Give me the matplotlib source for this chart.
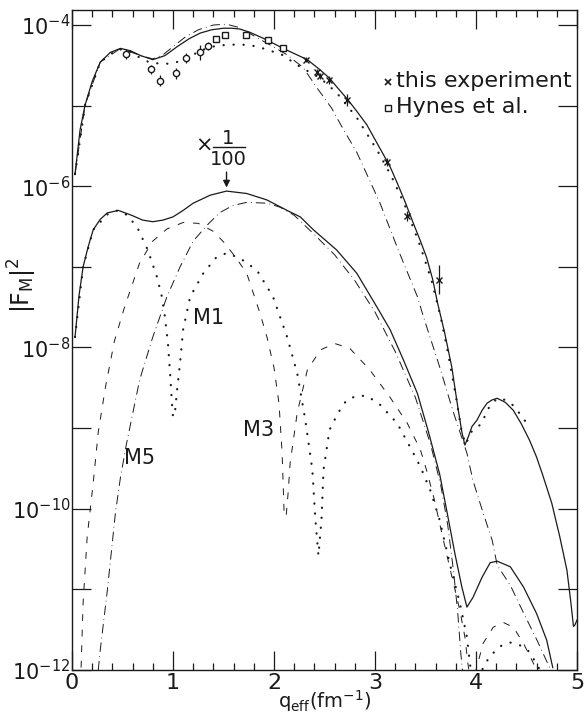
import numpy as np
import matplotlib
matplotlib.use("Agg")
import matplotlib.pyplot as plt
from matplotlib.ticker import FixedLocator, FuncFormatter, MultipleLocator

# ---- data (log10 values) ----
# full scale group
top_solid_x = [0.03, 0.08, 0.13, 0.2, 0.28, 0.38, 0.48, 0.58, 0.68, 0.8, 0.92, 1.04, 1.16, 1.27, 1.38,
               1.5, 1.58, 1.66, 1.76, 1.92, 2.09, 2.21, 2.33, 2.45, 2.55, 2.63, 2.72, 2.82, 2.92, 3.0,
               3.08, 3.15, 3.22, 3.3, 3.38, 3.45, 3.51, 3.57, 3.62, 3.69, 3.76, 3.82, 3.86, 3.89, 3.92,
               3.96, 4.01, 4.06, 4.11, 4.16, 4.21, 4.29, 4.37, 4.45, 4.53, 4.6, 4.66, 4.75, 4.83, 4.9,
               4.94, 4.965, 4.98, 5.0]
top_solid_y = [-5.85, -5.30, -4.99, -4.70, -4.46, -4.34, -4.29, -4.32, -4.38, -4.43, -4.38, -4.27, -4.17,
               -4.10, -4.06, -4.04, -4.04, -4.05, -4.09, -4.18, -4.29, -4.36, -4.43, -4.55, -4.66, -4.78,
               -4.91, -5.07, -5.24, -5.42, -5.60, -5.76, -5.96, -6.20, -6.46, -6.68, -6.88, -7.15, -7.45,
               -7.82, -8.24, -8.74, -9.05, -9.21, -9.12, -8.98, -8.90, -8.78, -8.69, -8.65, -8.63, -8.68,
               -8.78, -8.95, -9.15, -9.36, -9.58, -9.93, -10.35, -10.76, -11.17, -11.46, -11.44, -11.38]

top_dot_x = [0.03, 0.13, 0.28, 0.45, 0.55, 0.65, 0.76, 0.87, 0.97, 1.07, 1.17, 1.27, 1.38, 1.5, 1.66,
             1.8, 1.92, 2.08, 2.26, 2.46, 2.62, 2.82, 3.02, 3.16, 3.3, 3.45, 3.56, 3.65, 3.72, 3.8, 3.86,
             3.9, 3.95, 4.05, 4.13, 4.21, 4.29, 4.36, 4.46, 4.51]
top_dot_y = [-5.85, -4.99, -4.46, -4.30, -4.31, -4.39, -4.46, -4.48, -4.48, -4.45, -4.39, -4.32, -4.27,
             -4.25, -4.24, -4.26, -4.30, -4.37, -4.52, -4.66, -4.84, -5.15, -5.55, -5.87, -6.25, -6.75,
             -7.17, -7.62, -8.05, -8.60, -9.06, -9.20, -9.05, -8.95, -8.74, -8.63, -8.65, -8.71, -8.86,
             -8.96]

top_dd_x = [0.03, 0.13, 0.28, 0.48, 0.68, 0.8, 0.9, 1.0, 1.12, 1.25, 1.4, 1.53, 1.65, 1.78, 1.95, 2.13,
            2.29, 2.42, 2.57, 2.68, 2.82, 3.05, 3.23, 3.42, 3.48, 3.64, 3.77, 3.91, 3.97, 4.07, 4.16,
            4.21, 4.34, 4.47, 4.6, 4.74]
top_dd_y = [-5.85, -4.99, -4.46, -4.29, -4.38, -4.42, -4.37, -4.27, -4.15, -4.06, -4.00, -3.99, -4.03,
            -4.12, -4.24, -4.37, -4.53, -4.77, -5.03, -5.28, -5.58, -6.21, -6.79, -7.37, -7.62, -8.24,
            -8.78, -9.31, -9.65, -10.05, -10.39, -10.70, -10.95, -11.29, -11.62, -12.0]

# x 1/100 group
low_solid_x = [0.03, 0.07, 0.11, 0.16, 0.21, 0.28, 0.35, 0.46, 0.59, 0.7, 0.8, 0.9, 1.0, 1.1, 1.2, 1.37,
               1.53, 1.73, 1.93, 2.13, 2.26, 2.39, 2.62, 2.82, 3.02, 3.15, 3.28, 3.42, 3.53, 3.64, 3.71,
               3.79, 3.86, 3.91, 3.97, 4.06, 4.14, 4.21, 4.34, 4.47, 4.6, 4.7, 4.76]
low_solid_y = [-7.87, -7.35, -7.0, -6.75, -6.54, -6.41, -6.33, -6.30, -6.36, -6.42, -6.44, -6.42, -6.38,
               -6.30, -6.21, -6.11, -6.06, -6.09, -6.17, -6.30, -6.38, -6.54, -6.79, -7.08, -7.50, -7.78,
               -8.15, -8.57, -9.05, -9.57, -10.02, -10.55, -10.97, -11.22, -11.10, -10.85, -10.67, -10.65,
               -10.72, -10.97, -11.30, -11.63, -11.97]

m1_x = [0.03, 0.11, 0.21, 0.35, 0.45, 0.55, 0.65, 0.75, 0.84, 0.89, 0.92, 0.95, 0.97, 0.99, 1.0, 1.02,
        1.04, 1.07, 1.1, 1.17, 1.3, 1.43, 1.53, 1.66, 1.83, 1.99, 2.13, 2.23, 2.31, 2.38, 2.41, 2.44,
        2.47, 2.49, 2.55, 2.64, 2.72, 2.82, 2.92, 3.05, 3.22, 3.35, 3.45, 3.55, 3.64, 3.74, 3.84, 3.91,
        3.94, 3.96]
m1_y = [-7.87, -7.0, -6.54, -6.35, -6.30, -6.36, -6.52, -6.79, -7.12, -7.37, -7.62, -7.95, -8.3, -8.7,
        -8.86, -8.8, -8.53, -8.19, -7.78, -7.37, -7.08, -6.88, -6.83, -6.89, -7.04, -7.37, -7.87, -8.32,
        -8.9, -9.52, -10.14, -10.58, -10.14, -9.52, -9.02, -8.80, -8.65, -8.60, -8.60, -8.71, -8.94,
        -9.24, -9.48, -9.78, -10.14, -10.68, -11.17, -11.59, -11.92, -12.1]
m1_b_x = [4.02, 4.1, 4.17, 4.25, 4.34, 4.43, 4.51, 4.6, 4.65]
m1_b_y = [-12.1, -11.9, -11.79, -11.70, -11.66, -11.69, -11.75, -11.92, -12.05]

m3_x = [0.09, 0.11, 0.15, 0.21, 0.26, 0.33, 0.42, 0.52, 0.67, 0.8, 0.94, 1.1, 1.25, 1.4, 1.5, 1.62,
        1.73, 1.86, 1.93, 2.0, 2.05, 2.08, 2.1, 2.12, 2.14, 2.16, 2.23, 2.33, 2.46, 2.6, 2.75, 2.95,
        3.15, 3.32, 3.45, 3.51, 3.59, 3.67, 3.77, 3.84, 3.89, 3.92, 3.94]
m3_y = [-11.97, -11.17, -10.35, -9.68, -9.05, -8.5, -7.92, -7.5, -6.95, -6.68, -6.53, -6.45, -6.46,
        -6.56, -6.69, -6.88, -7.08, -7.57, -7.87, -8.25, -8.7, -9.3, -10.05, -10.1, -9.8, -9.43, -8.81,
        -8.28, -8.03, -7.95, -8.01, -8.28, -8.62, -8.94, -9.27, -9.52, -9.9, -10.35, -10.89, -11.26,
        -11.59, -11.92, -12.1]
m3_b_x = [3.99, 4.07, 4.17, 4.27, 4.37, 4.47, 4.57, 4.61]
m3_b_y = [-12.05, -11.67, -11.47, -11.41, -11.47, -11.67, -11.92, -12.05]

m5_x = [0.26, 0.28, 0.35, 0.43, 0.48, 0.54, 0.67, 0.8, 0.94, 1.07, 1.2, 1.34, 1.46, 1.59, 1.73, 1.93,
        2.06, 2.2, 2.4, 2.6, 2.8, 3.0, 3.2, 3.4, 3.55, 3.65, 3.72, 3.78, 3.82, 3.85, 3.87]
m5_y = [-12.0, -11.75, -11.01, -10.05, -9.61, -9.19, -8.40, -7.87, -7.37, -7.0, -6.68, -6.48, -6.33,
        -6.24, -6.20, -6.21, -6.26, -6.36, -6.60, -6.85, -7.17, -7.56, -8.05, -8.62, -9.2, -9.7, -10.2,
        -10.8, -11.3, -11.8, -12.05]

# measured points
exp_x = [2.32, 2.43, 2.46, 2.54, 2.72, 3.12, 3.32, 3.63]
exp_y = [-4.43, -4.58, -4.63, -4.68, -4.93, -5.70, -6.37, -7.16]
exp_err = [0.03, 0.04, 0.04, 0.05, 0.08, 0.05, 0.06, 0.18]

hynes_x = [1.43, 1.51, 1.72, 1.94, 2.09]
hynes_y = [-4.17, -4.12, -4.12, -4.19, -4.29]
hynes_err = [0.03, 0.03, 0.03, 0.03, 0.03]

circ_x = [0.53, 0.78, 0.87, 1.03, 1.13, 1.27, 1.35]
circ_y = [-4.36, -4.55, -4.69, -4.60, -4.41, -4.34, -4.26]
circ_err = [0.06, 0.06, 0.07, 0.07, 0.06, 0.09, 0.05]

y_decades = list(range(-12, -3))


def p10(v):
    return 10.0 ** np.array(v)


plt.rcParams['font.family'] = ['DejaVu Sans']
plt.rcParams['mathtext.fontset'] = 'dejavusans'
plt.rcParams['mathtext.default'] = 'regular'

ink = '#1a1a1a'
fig = plt.figure(figsize=(5.85, 7.15), dpi=100)
ax = fig.add_axes([72 / 585, 1 - 670 / 715, 505 / 585, 660 / 715])
ax.set_yscale('log')
ax.set_xlim(0, 5)
ax.set_ylim(1e-12, 10 ** -3.814)

dotted = (0, (0.1, 4.4))
dashed = (0, (7, 9))
dashdot = (0, (9, 5, 0.1, 5))

ax.plot(top_solid_x, p10(top_solid_y), color=ink, lw=0.9)
ax.plot(top_dot_x, p10(top_dot_y), color=ink, lw=1.6, ls=dotted, dash_capstyle='round')
ax.plot(top_dd_x, p10(top_dd_y), color=ink, lw=0.7, ls=dashdot, dash_capstyle='round')

ax.plot(low_solid_x, p10(low_solid_y), color=ink, lw=0.9)
ax.plot(m1_x, p10(m1_y), color=ink, lw=1.6, ls=dotted, dash_capstyle='round')
ax.plot(m1_b_x, p10(m1_b_y), color=ink, lw=1.6, ls=dotted, dash_capstyle='round')
ax.plot(m3_x, p10(m3_y), color=ink, lw=0.7, ls=dashed)
ax.plot(m3_b_x, p10(m3_b_y), color=ink, lw=0.7, ls=dashed)
ax.plot(m5_x, p10(m5_y), color=ink, lw=0.7, ls=dashdot, dash_capstyle='round')


def errpts(xs, ys, es, marker, ms):
    y = p10(ys)
    lo = y - p10(np.array(ys) - np.array(es))
    hi = p10(np.array(ys) + np.array(es)) - y
    ax.errorbar(xs, y, yerr=[lo, hi], fmt=marker, ms=ms, mfc='white', mec=ink,
                ecolor=ink, elinewidth=0.9, capsize=0, mew=1.0, zorder=5)


errpts(circ_x, circ_y, circ_err, 'o', 4.5)
errpts(hynes_x, hynes_y, hynes_err, 's', 4.5)
errpts(exp_x, exp_y, exp_err, 'x', 5)

# ticks
ax.xaxis.set_major_locator(MultipleLocator(1))
ax.xaxis.set_minor_locator(MultipleLocator(0.2))
ax.yaxis.set_major_locator(FixedLocator(p10(y_decades)))
ax.yaxis.set_minor_locator(FixedLocator([]))
ax.yaxis.set_major_formatter(FuncFormatter(
    lambda v, pos: r'$10^{%d}$' % round(np.log10(v)) if round(np.log10(v)) % 2 == 0 else ''))
ax.tick_params(which='both', direction='in', top=True, right=True, colors=ink, width=0.9)
ax.tick_params(which='major', length=14, labelsize=16, pad=2)
ax.tick_params(axis='y', which='major', pad=1, labelsize=15)
ax.tick_params(which='minor', length=5)
for s in ax.spines.values():
    s.set_linewidth(1.0)
    s.set_color(ink)

# labels
fig.text(22 / 585, 1 - 285 / 715, r'$|F_M|^2$', rotation=90, fontsize=17,
         ha='center', va='center', color=ink)
fig.text(325 / 585, 1 - 701 / 715, r'$q_{eff}$(fm$^{-1}$)', fontsize=14,
         ha='center', va='center', color=ink)

# legend
ax.plot([3.13], [10 ** -4.71], marker='x', ms=4, mew=1.2, color=ink)
ax.text(3.21, 10 ** -4.69, 'this experiment', fontsize=16, va='center', ha='left', color=ink)
ax.plot([3.13], [10 ** -5.03], marker='s', ms=4, mfc='white', mec=ink, mew=1.0)
ax.text(3.21, 10 ** -5.02, 'Hynes et al.', fontsize=16, va='center', ha='left', color=ink)

# x 1/100 mark with arrow
ax.text(1.31, 10 ** -5.5, '×', fontsize=15, ha='center', va='center', color=ink)
ax.text(1.55, 10 ** -5.405, '1', fontsize=14, ha='center', va='center', color=ink)
ax.plot([1.40, 1.71], [10 ** -5.51, 10 ** -5.51], color=ink, lw=1.0)
ax.text(1.55, 10 ** -5.67, '100', fontsize=14, ha='center', va='center', color=ink)
ax.annotate('', xy=(1.53, 10 ** -6.05), xytext=(1.53, 10 ** -5.79),
            arrowprops=dict(arrowstyle='-|>', color=ink, lw=1.0, mutation_scale=10))

ax.text(1.35, 10 ** -7.64, 'M1', fontsize=15, ha='center', va='center', color=ink)
ax.text(1.85, 10 ** -9.02, 'M3', fontsize=15, ha='center', va='center', color=ink)
ax.text(0.67, 10 ** -9.37, 'M5', fontsize=15, ha='center', va='center', color=ink)

fig.savefig('out.png', dpi=100)
